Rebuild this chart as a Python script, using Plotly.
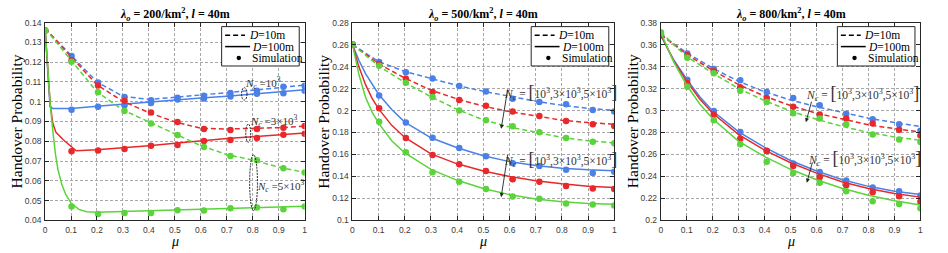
import plotly.graph_objects as go

BLUE = '#4a80e8'
RED = '#e8282a'
GREEN = '#5ad43a'
SERIF = 'Liberation Serif'
SANS = 'Liberation Sans'

# ---------------- data ----------------
sim_x = [0, 0.102, 0.204, 0.306, 0.408, 0.51, 0.612, 0.714, 0.816, 0.918, 1.0]
grid_x = [0, 0.1, 0.2, 0.3, 0.4, 0.5, 0.6, 0.7, 0.8, 0.9, 1.0]

# Panel 1: lambda_o = 200/km^2
p1_d10_blue = [0.137, 0.1235, 0.1100, 0.1027, 0.1012, 0.1022, 0.1033, 0.1045, 0.1058, 0.1071, 0.1084]
p1_d10_red = [0.137, 0.1225, 0.1085, 0.1002, 0.0945, 0.0898, 0.0866, 0.0862, 0.0864, 0.0869, 0.0876]
p1_d10_green = [0.137, 0.1207, 0.1050, 0.0958, 0.0896, 0.0838, 0.0778, 0.0733, 0.0705, 0.0670, 0.0642]
p1_d100_blue_x = [0, 0.01, 0.019, 0.03, 0.1, 0.2, 0.3, 0.4, 0.5, 0.6, 0.7, 0.8, 0.9, 1.0]
p1_d100_blue = [0.137, 0.1162, 0.0975, 0.0966, 0.0966, 0.0977, 0.0988, 0.0998, 0.1008, 0.1019, 0.1028, 0.1038, 0.1049, 0.1060]
p1_d100_red_x = [0, 0.01, 0.02, 0.03, 0.042, 0.07, 0.09, 0.12, 0.2, 0.3, 0.4, 0.5, 0.6, 0.7, 0.8, 0.9, 1.0]
p1_d100_red = [0.137, 0.1165, 0.0985, 0.0890, 0.0845, 0.0808, 0.0785, 0.0752, 0.0757, 0.0766, 0.0778, 0.0790, 0.0803, 0.0814, 0.0823, 0.0832, 0.0842]
p1_d100_green_x = [0, 0.01, 0.02, 0.03, 0.04, 0.05, 0.065, 0.08, 0.1, 0.13, 0.16, 0.2, 0.3, 0.4, 0.5, 0.6, 0.7, 0.8, 0.9, 1.0]
p1_d100_green = [0.137, 0.1165, 0.0985, 0.0850, 0.0735, 0.0655, 0.0580, 0.0530, 0.0488, 0.0456, 0.0444, 0.0442, 0.0445, 0.0448, 0.0452, 0.0456, 0.0460, 0.0464, 0.0468, 0.0472]
p1_sim_d10_blue = [0.136, 0.1231, 0.1097, 0.1024, 0.1008, 0.1020, 0.1030, 0.1044, 0.1055, 0.1076, 0.1081]
p1_sim_d10_red = [0.136, 0.1210, 0.1082, 0.1005, 0.0945, 0.0898, 0.0862, 0.0857, 0.0862, 0.0869, 0.0877]
p1_sim_d10_green = [0.136, 0.1202, 0.1048, 0.0953, 0.0890, 0.0832, 0.0771, 0.0726, 0.0704, 0.0664, 0.0642]
p1_sim_d100_blue = [0.136, 0.0960, 0.0975, 0.0982, 0.0994, 0.1011, 0.1016, 0.1027, 0.1040, 0.1043, 0.1055]
p1_sim_d100_red = [0.136, 0.0750, 0.0753, 0.0761, 0.0777, 0.0781, 0.0801, 0.0806, 0.0817, 0.0833, 0.0838]
p1_sim_d100_green = [0.136, 0.0470, 0.0433, 0.0437, 0.0438, 0.0451, 0.0450, 0.0461, 0.0466, 0.0456, 0.0470]

# Panel 2: lambda_o = 500/km^2
p2_d10_blue = [0.26, 0.2445, 0.2355, 0.2290, 0.2228, 0.2175, 0.2127, 0.2085, 0.2048, 0.2020, 0.2002]
p2_d10_red = [0.26, 0.2425, 0.2295, 0.2185, 0.2105, 0.2040, 0.1990, 0.1948, 0.1912, 0.1890, 0.1875]
p2_d10_green = [0.26, 0.2405, 0.2255, 0.2125, 0.2010, 0.1915, 0.1850, 0.1800, 0.1755, 0.1725, 0.1705]
p2_d100_x = [0, 0.025, 0.05, 0.075, 0.1, 0.15, 0.2, 0.3, 0.4, 0.5, 0.6, 0.7, 0.8, 0.9, 1.0]
p2_d100_blue = [0.26, 0.2455, 0.2335, 0.2235, 0.2148, 0.2010, 0.1895, 0.1752, 0.1662, 0.1588, 0.1535, 0.1500, 0.1475, 0.1460, 0.1452]
p2_d100_red = [0.26, 0.2395, 0.2235, 0.2110, 0.2015, 0.1865, 0.1755, 0.1605, 0.1515, 0.1450, 0.1400, 0.1362, 0.1333, 0.1312, 0.1300]
p2_d100_green = [0.26, 0.2325, 0.2120, 0.1985, 0.1885, 0.1725, 0.1615, 0.1465, 0.1365, 0.1290, 0.1235, 0.1195, 0.1170, 0.1155, 0.1148]
p2_sim_d10_blue = [0.26, 0.2442, 0.2349, 0.2291, 0.2224, 0.2174, 0.2107, 0.2078, 0.2058, 0.2005, 0.1990]
p2_sim_d10_red = [0.26, 0.2420, 0.2290, 0.2168, 0.2096, 0.2043, 0.1991, 0.1950, 0.1905, 0.1874, 0.1860]
p2_sim_d10_green = [0.26, 0.2407, 0.2253, 0.2122, 0.2000, 0.1912, 0.1857, 0.1802, 0.1750, 0.1716, 0.1702]
p2_sim_d100_blue = [0.26, 0.2136, 0.1890, 0.1752, 0.1660, 0.1585, 0.1521, 0.1495, 0.1460, 0.1432, 0.1442]
p2_sim_d100_red = [0.26, 0.2020, 0.1751, 0.1596, 0.1512, 0.1450, 0.1375, 0.1352, 0.1314, 0.1290, 0.1285]
p2_sim_d100_green = [0.26, 0.1897, 0.1620, 0.1439, 0.1352, 0.1285, 0.1218, 0.1197, 0.1154, 0.1145, 0.1136]

# Panel 3: lambda_o = 800/km^2
p3_d10_blue = [0.369, 0.3525, 0.3385, 0.3265, 0.3170, 0.3095, 0.3035, 0.2980, 0.2930, 0.2890, 0.2854]
p3_d10_red = [0.369, 0.3510, 0.3365, 0.3235, 0.3130, 0.3045, 0.2975, 0.2920, 0.2870, 0.2835, 0.2804]
p3_d10_green = [0.371, 0.3490, 0.3340, 0.3200, 0.3090, 0.2995, 0.2920, 0.2855, 0.2800, 0.2760, 0.2729]
p3_d100_x = [0, 0.05, 0.1, 0.15, 0.2, 0.3, 0.4, 0.5, 0.6, 0.7, 0.8, 0.9, 1.0]
p3_d100_blue = [0.368, 0.3460, 0.3285, 0.3125, 0.2995, 0.2805, 0.2665, 0.2545, 0.2450, 0.2370, 0.2310, 0.2265, 0.2236]
p3_d100_red = [0.369, 0.3450, 0.3265, 0.3105, 0.2975, 0.2780, 0.2640, 0.2525, 0.2430, 0.2350, 0.2290, 0.2245, 0.2212]
p3_d100_green = [0.371, 0.3440, 0.3230, 0.3060, 0.2925, 0.2720, 0.2580, 0.2465, 0.2370, 0.2290, 0.2230, 0.2180, 0.2140]
p3_sim_d10_blue = [0.368, 0.3518, 0.3378, 0.3276, 0.3168, 0.3113, 0.3049, 0.2970, 0.2921, 0.2874, 0.2816]
p3_sim_d10_red = [0.369, 0.3503, 0.3357, 0.3212, 0.3113, 0.3034, 0.2964, 0.2927, 0.2883, 0.2825, 0.2772]
p3_sim_d10_green = [0.371, 0.3480, 0.3340, 0.3180, 0.3078, 0.2976, 0.2927, 0.2874, 0.2781, 0.2737, 0.2714]
p3_sim_d100_blue = [0.368, 0.3280, 0.2995, 0.2804, 0.2634, 0.2518, 0.2440, 0.2364, 0.2300, 0.2265, 0.2227]
p3_sim_d100_red = [0.369, 0.3250, 0.2964, 0.2743, 0.2631, 0.2495, 0.2393, 0.2320, 0.2256, 0.2221, 0.2169]
p3_sim_d100_green = [0.371, 0.3217, 0.2911, 0.2693, 0.2533, 0.2431, 0.2343, 0.2265, 0.2175, 0.2149, 0.2110]

x_ticks = [0, 0.1, 0.2, 0.3, 0.4, 0.5, 0.6, 0.7, 0.8, 0.9, 1]
x_ticklabels = ['0', '0.1', '0.2', '0.3', '0.4', '0.5', '0.6', '0.7', '0.8', '0.9', '1']
p1_yticks = [0.04, 0.05, 0.06, 0.07, 0.08, 0.09, 0.10, 0.11, 0.12, 0.13, 0.14]
p1_yticklabels = ['0.04', '0.05', '0.06', '0.07', '0.08', '0.09', '0.1', '0.11', '0.12', '0.13', '0.14']
p2_yticks = [0.10, 0.12, 0.14, 0.16, 0.18, 0.20, 0.22, 0.24, 0.26, 0.28]
p2_yticklabels = ['0.1', '0.12', '0.14', '0.16', '0.18', '0.2', '0.22', '0.24', '0.26', '0.28']
p3_yticks = [0.20, 0.22, 0.24, 0.26, 0.28, 0.30, 0.32, 0.34, 0.36, 0.38]
p3_yticklabels = ['0.2', '0.22', '0.24', '0.26', '0.28', '0.3', '0.32', '0.34', '0.36', '0.38']

titles = ['200', '500', '800']
legend_labels = ['<i>D</i>=10m', '<i>D</i>=100m', 'Simulation']

# ---------------- figure ----------------
W, H = 948, 253
fig = go.Figure()

PX_L = [43.3, 352.3, 662.3]
PX_R = [304.3, 615.5, 923.3]
PY_T, PY_B = 18.3, 224.3
x_domains = [[PX_L[k] / W, PX_R[k] / W] for k in range(3)]
y_domain = [1 - PY_B / H, 1 - PY_T / H]
DASH = '5px,3px'


def px(v):
    return v / W


def py(v):
    return 1 - v / H


def add_panel(k, d10, d100_x, d100, sim10, sim100):
    xa = 'x' if k == 1 else f'x{k}'
    ya = 'y' if k == 1 else f'y{k}'
    colors = [BLUE, RED, GREEN]
    for i in range(3):
        c = colors[i]
        fig.add_trace(go.Scatter(x=grid_x, y=d10[i], mode='lines', xaxis=xa, yaxis=ya,
                                 line=dict(color=c, width=1.5, dash=DASH), showlegend=False))
        fig.add_trace(go.Scatter(x=sim_x, y=sim10[i], mode='markers', xaxis=xa, yaxis=ya,
                                 marker=dict(color=c, size=6.5), showlegend=False))
        fig.add_trace(go.Scatter(x=d100_x[i], y=d100[i], mode='lines', xaxis=xa, yaxis=ya,
                                 line=dict(color=c, width=1.5), showlegend=False))
        fig.add_trace(go.Scatter(x=sim_x, y=sim100[i], mode='markers', xaxis=xa, yaxis=ya,
                                 marker=dict(color=c, size=6.5), showlegend=False))


add_panel(1, [p1_d10_blue, p1_d10_red, p1_d10_green],
          [p1_d100_blue_x, p1_d100_red_x, p1_d100_green_x],
          [p1_d100_blue, p1_d100_red, p1_d100_green],
          [p1_sim_d10_blue, p1_sim_d10_red, p1_sim_d10_green],
          [p1_sim_d100_blue, p1_sim_d100_red, p1_sim_d100_green])
add_panel(2, [p2_d10_blue, p2_d10_red, p2_d10_green],
          [p2_d100_x] * 3, [p2_d100_blue, p2_d100_red, p2_d100_green],
          [p2_sim_d10_blue, p2_sim_d10_red, p2_sim_d10_green],
          [p2_sim_d100_blue, p2_sim_d100_red, p2_sim_d100_green])
add_panel(3, [p3_d10_blue, p3_d10_red, p3_d10_green],
          [p3_d100_x] * 3, [p3_d100_blue, p3_d100_red, p3_d100_green],
          [p3_sim_d10_blue, p3_sim_d10_red, p3_sim_d10_green],
          [p3_sim_d100_blue, p3_sim_d100_red, p3_sim_d100_green])

axis_common = dict(showline=True, linecolor='#262626', linewidth=1, mirror='ticks',
                   ticks='inside', ticklen=4, tickcolor='#262626', showgrid=True,
                   gridcolor='#a8a8a8', griddash='3px,2px', gridwidth=1, zeroline=False,
                   tickfont=dict(family=SANS, size=8.5, color='#3a3a3a'))

yranges = [[0.04, 0.14], [0.10, 0.28], [0.20, 0.38]]
ytv = [p1_yticks, p2_yticks, p3_yticks]
ytt = [p1_yticklabels, p2_yticklabels, p3_yticklabels]
layout = {}
for k in range(1, 4):
    sx = '' if k == 1 else str(k)
    layout[f'xaxis{sx}'] = dict(axis_common, domain=x_domains[k - 1], range=[0, 1], anchor=f'y{sx}',
                                tickvals=x_ticks, ticktext=x_ticklabels, ticklabelstandoff=1)
    layout[f'yaxis{sx}'] = dict(axis_common, domain=y_domain, range=yranges[k - 1], anchor=f'x{sx}',
                                tickvals=ytv[k - 1], ticktext=ytt[k - 1], ticklabelstandoff=1)
fig.update_layout(**layout)

ann = []
shapes = []
ylab_x = [15, 323, 634]
for k in range(3):
    xc = (x_domains[k][0] + x_domains[k][1]) / 2
    ann.append(dict(xref='paper', yref='paper', x=xc, y=py(10), xanchor='center', yanchor='middle',
                    showarrow=False,
                    text=f'<b><i>λ<sub>o</sub></i> = {titles[k]}/km<sup>2</sup>, <i>l</i> = 40m</b>',
                    font=dict(family=SERIF, size=12, color='black')))
    ann.append(dict(xref='paper', yref='paper', x=xc, y=py(246), xanchor='center', yanchor='middle',
                    showarrow=False, text='<i>μ</i>', font=dict(family=SERIF, size=14, color='black')))
    ann.append(dict(xref='paper', yref='paper', x=px(ylab_x[k]), y=(y_domain[0] + y_domain[1]) / 2,
                    xanchor='center', yanchor='middle',
                    showarrow=False, textangle=-90, text='Handover Probability',
                    font=dict(family=SERIF, size=15.5, color='black')))
    # manual legend box
    bl = PX_R[k] - 83.5
    br = PX_R[k] - 5.5
    bt, bb = 22.5, 63.5
    shapes.append(dict(type='rect', xref='paper', yref='paper', x0=px(bl), x1=px(br), y0=py(bb), y1=py(bt),
                       line=dict(color='#262626', width=1), fillcolor='white', layer='above'))
    rows = [31.5, 43.3, 55.2]
    shapes.append(dict(type='line', xref='paper', yref='paper', x0=px(bl + 3.5), x1=px(bl + 23.5),
                       y0=py(rows[0]), y1=py(rows[0]), line=dict(color='black', width=1.5, dash='5px,3px'),
                       layer='above'))
    shapes.append(dict(type='line', xref='paper', yref='paper', x0=px(bl + 3.5), x1=px(bl + 28.5),
                       y0=py(rows[1]), y1=py(rows[1]), line=dict(color='black', width=1.5), layer='above'))
    shapes.append(dict(type='circle', xref='paper', yref='paper', x0=px(bl + 15), x1=px(bl + 19.5),
                       y0=py(rows[2] + 2.25), y1=py(rows[2] - 2.25), fillcolor='black',
                       line=dict(color='black', width=0), layer='above'))
    text_x = [bl + 25, bl + 28.5, bl + 28.5]
    for r in range(3):
        ann.append(dict(xref='paper', yref='paper', x=px(text_x[r]), y=py(rows[r]), xanchor='left',
                        yanchor='middle', showarrow=False, text=legend_labels[r],
                        font=dict(family=SERIF, size=11.5, color='black')))

NOTE = dict(family=SERIF, size=11, color='#333333')
NOTE2 = dict(family=SERIF, size=11.5, color='#333333')
# panel 1 notes
ann.append(dict(xref='x', yref='y', x=0.84, y=0.1093, showarrow=False, text='<i>N<sub>c</sub></i> =10<sup>3</sup>', font=NOTE))
ann.append(dict(xref='x', yref='y', x=0.88, y=0.0903, showarrow=False, text='<i>N<sub>c</sub></i> =3×10<sup>3</sup>', font=NOTE))
ann.append(dict(xref='x', yref='y', x=0.905, y=0.0573, showarrow=False, text='<i>N<sub>c</sub></i> =5×10<sup>3</sup>', font=NOTE))

bracket = ('<i>N<sub>c</sub></i> = <span style="font-size:18px">[</span>10<sup>3</sup>,3×10<sup>3</sup>,'
           '5×10<sup>3</sup><span style="font-size:18px">]</span>')
# panel 2 notes
ann.append(dict(xref='x2', yref='y2', x=0.795, y=0.2172, showarrow=False, text=bracket, font=NOTE2))
ann.append(dict(xref='x2', yref='y2', x=0.795, y=0.1562, showarrow=False, text=bracket, font=NOTE2))
ann.append(dict(xref='x2', yref='y2', x=0.568, y=0.1833, ax=6.8, ay=-41, showarrow=True,
                arrowhead=2, arrowsize=0.9, arrowwidth=0.9, arrowcolor='#222', text=''))
ann.append(dict(xref='x2', yref='y2', x=0.568, y=0.1212, ax=6.8, ay=-44, showarrow=True,
                arrowhead=2, arrowsize=0.9, arrowwidth=0.9, arrowcolor='#222', text=''))
# panel 3 notes
ann.append(dict(xref='x3', yref='y3', x=0.776, y=0.3160, showarrow=False, text=bracket, font=NOTE2))
ann.append(dict(xref='x3', yref='y3', x=0.783, y=0.2565, showarrow=False, text=bracket, font=NOTE2))
ann.append(dict(xref='x3', yref='y3', x=0.559, y=0.2894, ax=6, ay=-22, showarrow=True,
                arrowhead=2, arrowsize=0.9, arrowwidth=0.9, arrowcolor='#222', text=''))
ann.append(dict(xref='x3', yref='y3', x=0.5625, y=0.2343, ax=6, ay=-22, showarrow=True,
                arrowhead=2, arrowsize=0.9, arrowwidth=0.9, arrowcolor='#222', text=''))

shapes += [
    dict(type='circle', xref='x', yref='y', x0=0.7567, x1=0.7778, y0=0.1008, y1=0.1071,
         line=dict(color='#222', width=1, dash='2px,1px')),
    dict(type='circle', xref='x', yref='y', x0=0.773, x1=0.792, y0=0.0795, y1=0.0887,
         line=dict(color='#222', width=1, dash='2px,1px')),
    dict(type='circle', xref='x', yref='y', x0=0.788, x1=0.818, y0=0.0450, y1=0.0732,
         line=dict(color='#222', width=1, dash='2px,1px')),
]

fig.update_layout(annotations=ann, shapes=shapes, width=W, height=H, showlegend=False,
                  margin=dict(l=0, r=0, t=0, b=0), paper_bgcolor='white', plot_bgcolor='white')

fig.write_html('out.html', config={'displayModeBar': False},
               post_script="document.body.style.margin='0px';document.body.style.overflow='hidden';")
